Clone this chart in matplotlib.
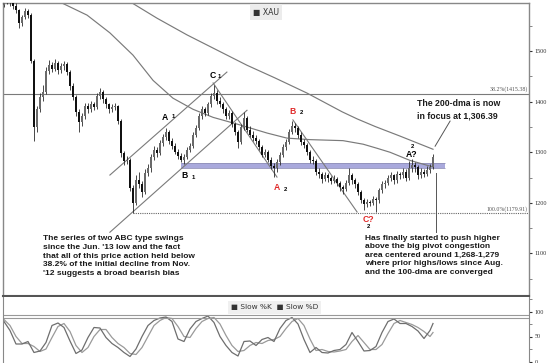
import matplotlib
matplotlib.use("Agg")
import matplotlib.pyplot as plt
import numpy as np

W, H = 550, 363

# daily-ish XAU bars
opens = [1592, 1598, 1602, 1596, 1590, 1582, 1555, 1568, 1580, 1572, 1480, 1350,
         1385, 1410, 1420, 1460, 1472, 1465, 1476, 1462, 1470, 1475, 1458, 1430,
         1410, 1380, 1360, 1372, 1392, 1385, 1395, 1390, 1412, 1420, 1405, 1395,
         1385, 1390, 1392, 1362, 1298, 1282, 1285, 1230, 1200, 1245, 1238, 1222,
         1260, 1268, 1290, 1305, 1298, 1318, 1330, 1340, 1322, 1312, 1300, 1292,
         1285, 1290, 1305, 1312, 1335, 1348, 1372, 1385, 1378, 1395, 1412, 1418,
         1402, 1395, 1385, 1372, 1378, 1355, 1340, 1320, 1350, 1368, 1345, 1335,
         1328, 1322, 1310, 1295, 1300, 1285, 1272, 1268, 1280, 1295, 1310, 1320,
         1340, 1352, 1348, 1335, 1320, 1315, 1300, 1285, 1282, 1262, 1258, 1248,
         1255, 1250, 1244, 1248, 1240, 1232, 1228, 1240, 1255, 1245, 1238, 1222,
         1205, 1198, 1202, 1200, 1208, 1205, 1225, 1238, 1240, 1250, 1255, 1245,
         1258, 1255, 1262, 1250, 1268, 1275, 1270, 1255, 1262, 1258, 1265, 1270]
highs = [1604, 1608, 1605, 1598, 1595, 1584, 1572, 1586, 1584, 1575, 1484, 1392,
         1418, 1432, 1468, 1482, 1478, 1484, 1480, 1476, 1480, 1478, 1462, 1436,
         1414, 1386, 1378, 1398, 1398, 1402, 1400, 1418, 1428, 1424, 1410, 1398,
         1396, 1398, 1394, 1365, 1302, 1292, 1288, 1236, 1256, 1262, 1244, 1266,
         1276, 1296, 1312, 1310, 1324, 1336, 1348, 1344, 1328, 1318, 1306, 1298,
         1296, 1310, 1318, 1340, 1354, 1378, 1392, 1390, 1400, 1418, 1433, 1424,
         1410, 1400, 1390, 1384, 1382, 1360, 1345, 1356, 1380, 1372, 1352, 1342,
         1334, 1326, 1315, 1306, 1304, 1290, 1278, 1286, 1300, 1316, 1326, 1346,
         1362, 1358, 1352, 1340, 1326, 1318, 1304, 1292, 1286, 1268, 1262, 1262,
         1260, 1254, 1256, 1252, 1244, 1236, 1246, 1268, 1260, 1250, 1242, 1226,
         1210, 1208, 1206, 1214, 1212, 1230, 1244, 1246, 1256, 1262, 1258, 1264,
         1262, 1268, 1266, 1282, 1286, 1280, 1274, 1268, 1266, 1272, 1276, 1296]
lows = [1588, 1594, 1590, 1584, 1576, 1545, 1550, 1564, 1565, 1476, 1322, 1340,
        1380, 1402, 1416, 1455, 1458, 1460, 1455, 1456, 1462, 1452, 1424, 1404,
        1372, 1340, 1352, 1366, 1378, 1380, 1384, 1386, 1406, 1398, 1388, 1378,
        1380, 1384, 1355, 1290, 1274, 1276, 1224, 1180, 1196, 1230, 1212, 1218,
        1254, 1262, 1284, 1290, 1294, 1312, 1324, 1316, 1306, 1296, 1286, 1280,
        1277, 1286, 1300, 1308, 1330, 1344, 1366, 1372, 1374, 1390, 1406, 1396,
        1390, 1378, 1366, 1366, 1350, 1335, 1308, 1316, 1345, 1340, 1330, 1322,
        1316, 1304, 1290, 1290, 1280, 1266, 1251, 1262, 1274, 1290, 1304, 1316,
        1336, 1340, 1328, 1314, 1308, 1294, 1278, 1276, 1256, 1250, 1240, 1244,
        1242, 1238, 1240, 1234, 1224, 1218, 1224, 1236, 1238, 1230, 1216, 1200,
        1186, 1192, 1194, 1196, 1182, 1200, 1220, 1230, 1236, 1244, 1238, 1240,
        1248, 1250, 1244, 1246, 1262, 1262, 1248, 1250, 1252, 1254, 1260, 1266]
closes = [1598, 1602, 1596, 1590, 1582, 1555, 1568, 1580, 1572, 1480, 1350, 1385,
          1410, 1420, 1460, 1472, 1465, 1476, 1462, 1470, 1475, 1458, 1430, 1410,
          1380, 1360, 1372, 1392, 1385, 1395, 1390, 1412, 1420, 1405, 1395, 1385,
          1390, 1392, 1362, 1298, 1282, 1285, 1230, 1200, 1245, 1238, 1222, 1260,
          1268, 1290, 1305, 1298, 1318, 1330, 1340, 1322, 1312, 1300, 1292, 1285,
          1290, 1305, 1312, 1335, 1348, 1372, 1385, 1378, 1395, 1412, 1418, 1402,
          1395, 1385, 1372, 1378, 1355, 1340, 1320, 1350, 1368, 1345, 1335, 1328,
          1322, 1310, 1295, 1300, 1285, 1272, 1268, 1280, 1295, 1310, 1320, 1340,
          1352, 1348, 1335, 1320, 1315, 1300, 1285, 1282, 1262, 1258, 1248, 1255,
          1250, 1244, 1248, 1240, 1232, 1228, 1240, 1255, 1245, 1238, 1222, 1205,
          1198, 1202, 1200, 1208, 1205, 1225, 1238, 1240, 1250, 1255, 1245, 1258,
          1255, 1262, 1250, 1268, 1275, 1270, 1255, 1262, 1258, 1265, 1270, 1290]

# moving averages (bar position, value)
ma100_pos = [17, 19.3, 27.7, 35.3, 43, 49.7, 56.3, 63, 69.7, 78.7, 87.7, 94.3,
             102, 113, 119.7, 124.3, 128.7, 135.3, 143]
ma100_val = [1610, 1595, 1571, 1536, 1492, 1442, 1407, 1385, 1369, 1354, 1338, 1328,
             1325, 1323, 1316, 1308, 1300, 1284, 1271]
ma200_pos = [40.3, 42.7, 51, 61, 71, 81, 90.3, 101, 112.7, 117.7, 123.7, 132, 143]
ma200_val = [1605, 1595, 1565, 1532, 1502, 1472, 1447, 1417, 1380, 1366, 1351, 1332, 1306]

# fib levels and pivot zone
fib_382 = 1415.38
fib_100 = 1179.91
zone_lo, zone_hi = 1268, 1279

# trend lines (bar position pairs, price pairs)
trend_lines = [
    ([35.3, 74.3], [1255, 1458.5]),
    ([35.3, 81], [1142, 1383]),
    ([69.7, 91], [1437, 1251]),
    ([96.3, 117.7], [1364, 1182]),
]

# slow stochastics
stoch_pos = list(range(0, 143, 2)) + [143]
slow_k = [80, 62, 35, 35, 40, 18, 21, 38, 72, 77, 68, 41,
          16, 23, 48, 68, 67, 48, 36, 28, 18, 10, 25, 50,
          72, 82, 87, 89, 80, 45, 40, 65, 80, 86, 91, 78,
          50, 32, 18, 11, 40, 41, 32, 44, 48, 40, 66, 82,
          88, 75, 44, 18, 28, 18, 17, 22, 24, 34, 58, 40,
          21, 22, 30, 58, 80, 85, 76, 76, 70, 61, 46, 62, 76]
slow_d = [84, 72, 50, 36, 36, 30, 20, 25, 48, 70, 76, 60,
          32, 18, 28, 50, 64, 64, 48, 36, 28, 16, 14, 28,
          50, 72, 82, 88, 86, 70, 50, 48, 66, 80, 86, 88,
          75, 52, 32, 20, 22, 32, 38, 36, 42, 44, 50, 66,
          80, 86, 72, 45, 22, 24, 20, 19, 21, 24, 40, 52,
          38, 24, 24, 34, 56, 76, 82, 78, 74, 68, 60, 50, 58]


def fp(x, y):
    # pixel -> figure fraction
    return x / W, 1 - y / H


fig = plt.figure(figsize=(W / 100, H / 100), dpi=100)
ax1 = fig.add_axes([3 / W, 1 - 296 / H, 526 / W, 293 / H])
ax2 = fig.add_axes([3 / W, 0, 526 / W, 66 / H])

x_lim = (-0.33, 175)
grey = '#7a7a7a'

# candles
idx = np.arange(len(closes))
o = np.array(opens)
c = np.array(closes)
ax1.vlines(idx, lows, highs, color='#2a2a2a', lw=0.6, zorder=3)
body_col = np.where(c >= o, '#6a6a6a', '#111111')
ax1.bar(idx, np.maximum(np.abs(c - o), 1.5), bottom=np.minimum(o, c), width=0.6,
        color=body_col, zorder=3)

# zone
ax1.fill_between([59, 147], zone_lo, zone_hi, color='#a9a9dc', lw=0, zorder=2)
ax1.hlines([zone_lo, zone_hi], 59, 147, color='#9090b8', lw=0.6, zorder=2)

# levels
ax1.axhline(fib_382, color=grey, lw=0.8, zorder=1)
ax1.hlines(fib_100, 43, x_lim[1], color='#666666', lw=0.8, linestyles=(0, (1, 1)), zorder=1)

# MAs and trend lines
ax1.plot(ma100_pos, ma100_val, color=grey, lw=0.85, zorder=2)
ax1.plot(ma200_pos, ma200_val, color=grey, lw=0.85, zorder=2)
for xs, ys in trend_lines:
    ax1.plot(xs, ys, color=grey, lw=0.8, zorder=2)

# pointer lines
ax1.plot([148.7, 143.7], [1361.7, 1312], color='#555555', lw=0.7)
ax1.plot([144, 144], [1259, 1142], color='#555555', lw=0.7)

ax1.set_xlim(*x_lim)
ax1.set_ylim(1016, 1595)
ax1.set_xticks([])
ax1.yaxis.tick_right()
ax1.set_yticks([1100, 1200, 1300, 1400, 1500])
ax1.set_yticks([1050, 1150, 1250, 1350, 1450, 1550], minor=True)
ax1.tick_params(axis='y', which='major', direction='out', length=2.5, width=0.8,
                colors='#333333', labelsize=4.4, pad=1.5)
ax1.tick_params(axis='y', which='minor', direction='out', length=1.8, width=0.5,
                colors='#555555')
for lbl in ax1.get_yticklabels():
    lbl.set_fontfamily('Liberation Serif')
for s in ax1.spines.values():
    s.set_color('#888888')
    s.set_linewidth(1.0)
ax1.spines['bottom'].set_color('#555555')
ax1.spines['bottom'].set_linewidth(1.5)

# level labels
ax1.text(174.5, fib_382 + 3, '38.2%(1415.38)', ha='right', va='bottom', fontsize=4.2,
         color='#555555', family='Liberation Serif')
ax1.text(174.5, fib_100 + 3, '100.0%(1179.91)', ha='right', va='bottom', fontsize=4.2,
         color='#555555', family='Liberation Serif')

# stochastics panel
ax2.plot(stoch_pos, slow_d, color='#9a9a9a', lw=0.9)
ax2.plot(stoch_pos, slow_k, color='#6e6e6e', lw=0.9)
ax2.axhline(94, color='#999999', lw=0.8)
ax2.axhline(88, color='#999999', lw=0.8)
ax2.set_xlim(*x_lim)
ax2.set_ylim(-3, 129)
ax2.set_xticks([])
ax2.yaxis.tick_right()
ax2.set_yticks([0, 50, 100])
ax2.set_yticks([25, 75, 125], minor=True)
ax2.tick_params(axis='y', which='major', direction='out', length=2.5, width=0.8,
                colors='#333333', labelsize=4.4, pad=1.5)
ax2.tick_params(axis='y', which='minor', direction='out', length=1.8, width=0.5,
                colors='#555555')
for lbl in ax2.get_yticklabels():
    lbl.set_fontfamily('Liberation Serif')
for s in ax2.spines.values():
    s.set_color('#888888')
ax2.spines['top'].set_visible(False)
ax2.spines['bottom'].set_visible(False)

# legends
fig.text(*fp(253, 12), '\u25a0 XAU', fontsize=5.6, color='#333333', family='DejaVu Sans',
         ha='left', va='center',
         bbox=dict(facecolor='#ececec', edgecolor='none', pad=2.2))
fig.text(*fp(231, 307.5), '\u25a0 Slow %K  \u25a0 Slow %D', fontsize=5.3, color='#333333',
         family='DejaVu Sans', ha='left', va='center',
         bbox=dict(facecolor='#f0f0f0', edgecolor='none', pad=2.2))

# wave labels
bold = dict(family='Liberation Sans', fontweight='bold', ha='center', va='center')
wave_labels = [
    ('A', 165, 118, 'black', 6.2), ('1', 173, 117, 'black', 4.3),
    ('B', 185, 175, 'black', 6.2), ('1', 193.5, 177.5, 'black', 4.3),
    ('C', 213, 76, 'black', 6.2), ('1', 219, 76, 'black', 4.3),
    ('A', 277, 187, '#e02828', 6.2), ('2', 286, 190, 'black', 4.3),
    ('B', 292, 111, '#e02828', 6.2), ('2', 302, 113, 'black', 4.3),
    ('C?', 368, 220, '#e02828', 6.2), ('2', 369, 227, 'black', 4.3),
    ('2', 413, 146, 'black', 4.3), ('A?', 412, 154, 'black', 6.2),
]
for s, x, y, col, fs in wave_labels:
    fig.text(*fp(x, y), s, color=col, fontsize=fs, **bold)

# commentary
note = dict(family='Liberation Sans', fontweight='bold', color='#1a1a1a',
            ha='left', va='top')
fig.text(*fp(43, 235.5),
         "The series of two ABC type swings\n"
         "since the Jun. '13 low and the fact\n"
         "that all of this price action held below\n"
         "38.2% of the initial decline from Nov.\n"
         "'12 suggests a broad bearish bias",
         fontsize=6.0, linespacing=1.33, **note)
fig.text(*fp(365, 234.5),
         "Has finally started to push higher\n"
         "above the big pivot congestion\n"
         "area centered around 1,268-1,279\n"
         "where prior highs/lows since Aug.\n"
         "and the 100-dma are converged",
         fontsize=6.0, linespacing=1.33, **note)
fig.text(*fp(417, 99),
         "The 200-dma is now\nin focus at 1,306.39",
         fontsize=6.3, linespacing=1.45, **note)

fig.savefig('out.png', dpi=100)
